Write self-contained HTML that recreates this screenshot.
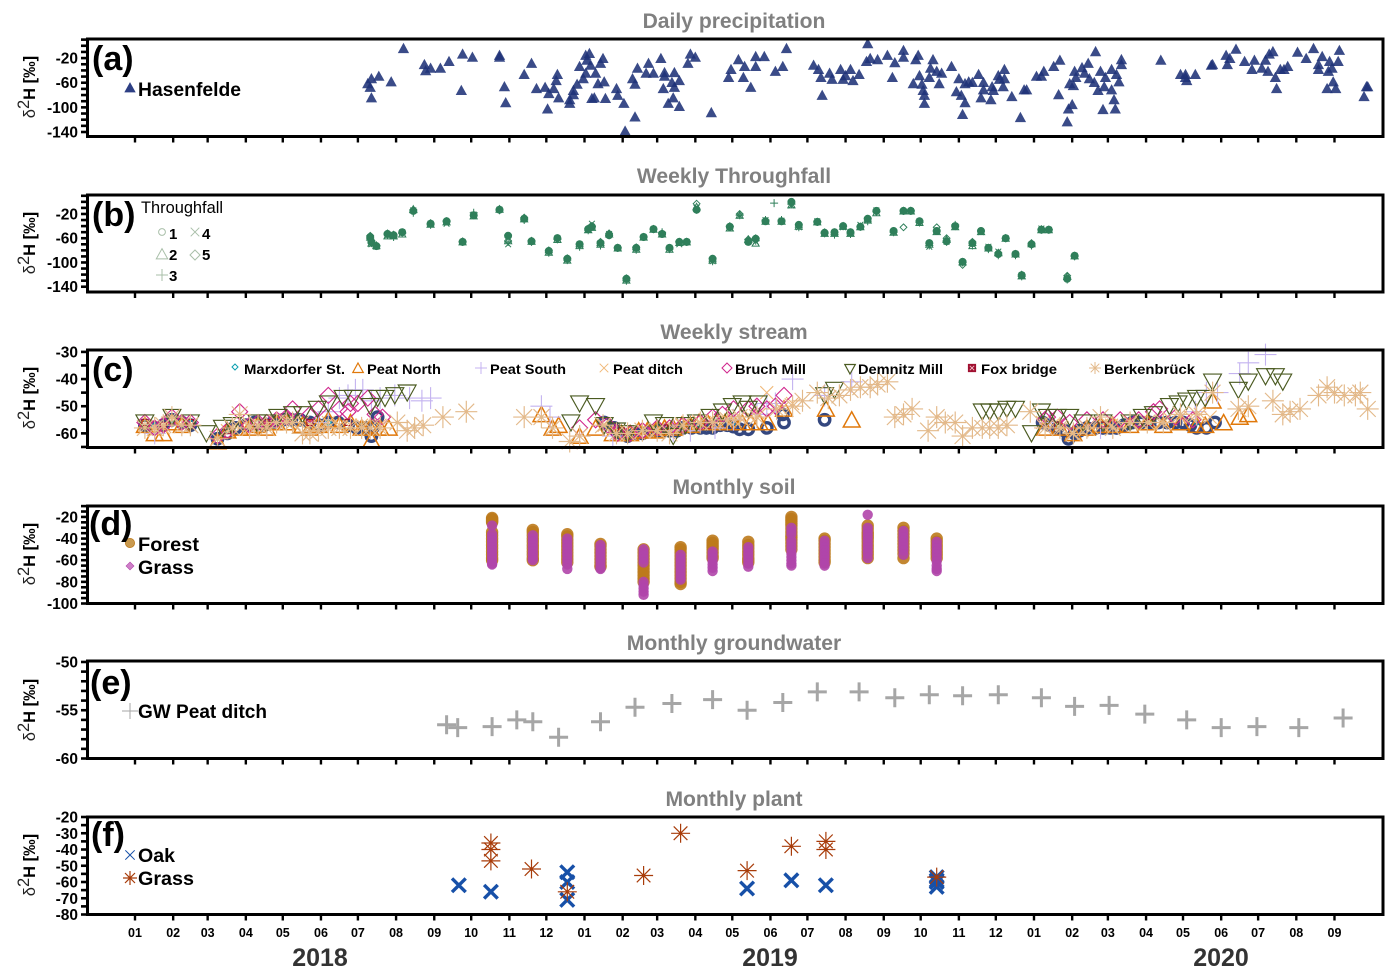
<!DOCTYPE html>
<html lang="en">
<head>
<meta charset="utf-8">
<title>Stable water isotopes time series</title>
<style>
html,body{margin:0;padding:0;background:#fff;}
svg{display:block;}
text{font-family:"Liberation Sans",sans-serif;}
.title{font-size:21.1px;font-weight:bold;fill:#808080;text-anchor:middle;}
.panel{font-size:34px;font-weight:bold;fill:#000;}
.leg{font-size:19.5px;font-weight:bold;fill:#000;}
.legc{font-size:14px;font-weight:bold;fill:#000;}
.ytitle{font-size:16.5px;fill:#222;text-anchor:middle;}
.ytitle .b{font-weight:bold;fill:#000;}
.year{font-size:25px;font-weight:bold;fill:#333;text-anchor:middle;}
.tick{font-size:15.5px;font-weight:bold;fill:#000;text-anchor:end;}
.mon{font-size:12.5px;font-weight:bold;fill:#000;text-anchor:middle;}
</style>
</head>
<body>
<svg id="chart" xmlns="http://www.w3.org/2000/svg" width="1396" height="978" viewBox="0 0 1396 978">
  <rect x="0" y="0" width="1396" height="978" fill="#fff"/>
  <g id="marks"></g>
  <g id="axes"></g>

  <text class="title" x="734" y="28">Daily precipitation</text>
  <text class="title" x="734" y="183">Weekly Throughfall</text>
  <text class="title" x="734" y="339">Weekly stream</text>
  <text class="title" x="734" y="494">Monthly soil</text>
  <text class="title" x="734" y="650">Monthly groundwater</text>
  <text class="title" x="734" y="806">Monthly plant</text>

  <text class="panel" x="92" y="70">(a)</text>
  <text class="panel" x="92" y="226">(b)</text>
  <text class="panel" x="92" y="381">(c)</text>
  <text class="panel" x="89" y="535">(d)</text>
  <text class="panel" x="90" y="694">(e)</text>
  <text class="panel" x="91" y="846">(f)</text>

  <text class="ytitle" transform="translate(35,87) rotate(-90)">δ<tspan dy="-6">2</tspan><tspan dy="6" class="b">H [‰]</tspan></text>
  <text class="ytitle" transform="translate(35,243) rotate(-90)">δ<tspan dy="-6">2</tspan><tspan dy="6" class="b">H [‰]</tspan></text>
  <text class="ytitle" transform="translate(35,398) rotate(-90)">δ<tspan dy="-6">2</tspan><tspan dy="6" class="b">H [‰]</tspan></text>
  <text class="ytitle" transform="translate(35,554) rotate(-90)">δ<tspan dy="-6">2</tspan><tspan dy="6" class="b">H [‰]</tspan></text>
  <text class="ytitle" transform="translate(35,710) rotate(-90)">δ<tspan dy="-6">2</tspan><tspan dy="6" class="b">H [‰]</tspan></text>
  <text class="ytitle" transform="translate(35,865) rotate(-90)">δ<tspan dy="-6">2</tspan><tspan dy="6" class="b">H [‰]</tspan></text>

  <text class="leg" x="138" y="96" textLength="103" lengthAdjust="spacingAndGlyphs">Hasenfelde</text>
  <text x="141" y="213" font-size="16.4" fill="#000">Throughfall</text>
  <g font-size="15" font-weight="bold" fill="#000">
    <text x="169" y="239">1</text>
    <text x="202" y="239">4</text>
    <text x="169" y="260">2</text>
    <text x="202" y="260">5</text>
    <text x="169" y="281">3</text>
  </g>
  <text class="legc" x="244" y="374" textLength="101" lengthAdjust="spacingAndGlyphs">Marxdorfer St.</text>
  <text class="legc" x="367" y="374" textLength="74" lengthAdjust="spacingAndGlyphs">Peat North</text>
  <text class="legc" x="490" y="374" textLength="76" lengthAdjust="spacingAndGlyphs">Peat South</text>
  <text class="legc" x="613" y="374" textLength="70" lengthAdjust="spacingAndGlyphs">Peat ditch</text>
  <text class="legc" x="735" y="374" textLength="71" lengthAdjust="spacingAndGlyphs">Bruch Mill</text>
  <text class="legc" x="858" y="374" textLength="85" lengthAdjust="spacingAndGlyphs">Demnitz Mill</text>
  <text class="legc" x="981" y="374" textLength="76" lengthAdjust="spacingAndGlyphs">Fox bridge</text>
  <text class="legc" x="1104" y="374" textLength="91" lengthAdjust="spacingAndGlyphs">Berkenbrück</text>
  <text class="leg" x="138" y="551" textLength="61" lengthAdjust="spacingAndGlyphs">Forest</text>
  <text class="leg" x="138" y="574" textLength="56" lengthAdjust="spacingAndGlyphs">Grass</text>
  <text class="leg" x="138" y="718" textLength="129" lengthAdjust="spacingAndGlyphs">GW Peat ditch</text>
  <text class="leg" x="138" y="862" textLength="37" lengthAdjust="spacingAndGlyphs">Oak</text>
  <text class="leg" x="138" y="885" textLength="56" lengthAdjust="spacingAndGlyphs">Grass</text>

  <text class="year" x="320" y="966">2018</text>
  <text class="year" x="770" y="966">2019</text>
  <text class="year" x="1221" y="966">2020</text>
</svg>

<script>
// ---- x axis data (days since 2018-01-01) ----
const monthLengths = [31,28,31,30,31,30,31,31,30,31,30,31,31,28,31,30,31,30,31,31,30,31,30,31,31,29,31,30,31,30,31,31,30];
const monthLabels = ['01','02','03','04','05','06','07','08','09','10','11','12','01','02','03','04','05','06','07','08','09','10','11','12','01','02','03','04','05','06','07','08','09'];

// ---- panel (a) daily precipitation [day, d2H] ----
const precipitation = [[189,-61],[191,-67],[192,-84],[192,-53],[198,-49],[208,-58],[218,-4],[235,-30],[236,-40],[240,-36],[248,-36],[255,-25],[265,-72],[266,-13],[274,-18],[296,-15],[296,-18],[300,-66],[301,-92],[316,-46],[322,-28],[326,-69],[333,-67],[335,-102],[336,-77],[340,-69],[342,-56],[343,-46],[344,-84],[353,-93],[353,-87],[356,-72],[356,-79],[359,-62],[361,-33],[364,-53],[366,-15],[367,-23],[369,-12],[370,-31],[366,-44],[374,-44],[376,-61],[373,-84],[371,-85],[380,-20],[378,-28],[381,-58],[382,-85],[391,-69],[392,-80],[397,-93],[398,-138],[406,-115],[404,-53],[406,-62],[408,-36],[415,-44],[417,-28],[421,-44],[427,-20],[429,-69],[430,-43],[430,-49],[433,-93],[436,-59],[437,-84],[438,-67],[438,-43],[442,-56],[442,-98],[449,-28],[451,-13],[455,-18],
[468,-108],[482,-51],[484,-38],[490,-22],[494,-51],[495,-33],[500,-67],[504,-33],[504,-17],[511,-17],[520,-41],[526,-33],[529,-4],[551,-31],[555,-38],[557,-51],[558,-80],[564,-44],[566,-54],[573,-38],[575,-54],[577,-48],[581,-38],[583,-56],[588,-46],[595,4],[594,-25],[597,-20],[603,-22],[611,-15],[615,-51],[617,-27],[624,-7],[624,-18],[634,-22],[636,-15],[632,-61],[637,-48],[639,-62],[640,-72],[641,-80],[641,-93],[645,-51],[646,-36],[648,-22],[651,-41],[653,-61],[655,-44],[663,-33],[667,-74],[669,-53],[671,-80],[672,-111],[674,-92],[674,-61],[677,-58],[680,-59],[685,-46],[687,-84],[689,-71],[689,-59],[695,-87],[696,-66],[697,-72],[701,-48],[702,-54],[705,-66],[706,-38],[706,-53],[712,-82],[719,-116],[722,-71],[724,-71],[732,-49],[736,-49],[738,-41],[746,-33],[751,-23],[750,-79],[757,-123],[758,-102],[761,-95],[759,-61],[762,-64],[763,-41],[764,-51],[769,-35],[771,-44],[774,-28],[775,-53],[779,-59],[780,-9],[782,-72],[784,-41],[786,-103],[787,-66],[788,-51],[793,-71],[793,-38],[795,-87],[796,-102],[797,-46],[799,-58],[801,-30],[801,-22],
[833,-23],[849,-46],[853,-51],[853,-46],[854,-56],[861,-46],[874,-31],[875,-30],[886,-15],[887,-30],[889,-20],[894,-5],[901,-25],[907,-38],[909,-23],[915,-36],[918,-23],[920,-41],[921,-13],[924,-9],[926,-51],[927,-69],[930,-38],[933,-38],[936,-33],[944,-10],[951,-20],[957,-4],[961,-30],[961,-38],[964,-17],[968,-69],[969,-41],[970,-25],[972,-36],[973,-58],[975,-69],[977,-25],[978,-7],[998,-82],[1000,-66],[1001,-66]];

// ---- panel (b) weekly throughfall ----
const tfDays = [191,192,196,205,210,217,226,240,253,266,275,296,303,316,322,336,343,351,361,368,371,378,385,392,399,407,413,421,428,434,442,448,456,469,483,491,498,504,512,519,525,533,539,554,560,568,575,581,589,595,602,616,624,630,637,645,651,659,666,672,680,687,693,701,707,715,720,728,736,742,757,763];
const tf1 = [-58,-66,-73,-53,-55,-50,-15,-36,-32,-66,-22,-13,-56,-28,-65,-81,-60,-94,-70,-45,-41,-68,-55,-76,-127,-76,-58,-45,-53,-76,-66,-66,-13,-94,-41,null,-66,-61,-32,null,-32,0,-38,-33,-51,-50,-40,-50,-41,-28,-15,-48,-15,-15,-32,-68,-48,-65,-40,-99,-68,-48,-76,-86,-60,-86,-121,-70,-46,-46,-127,-89];
const tf2 = [-58,-68,-72,-56,-56,-53,-12,-37,-33,-66,-23,-12,-64,-28,-65,-83,-62,-96,-72,-46,-42,-70,-53,-76,-129,-78,-58,-45,-53,-78,-67,-66,-8,-96,-43,-22,-62,-68,-32,null,-32,-5,-40,-33,-52,-52,-40,-52,-41,-30,-18,-50,-15,-15,-34,-70,-49,-62,-41,-99,-72,-49,-76,-84,-60,-86,-122,-69,-46,-46,-123,-89];
const tf3 = [-60,-68,-72,-54,-58,-52,-18,-38,-32,-66,-18,-14,-66,-30,-66,-84,-62,-96,-74,-47,-40,-72,-55,-76,-130,-79,-58,-45,-50,-78,-66,-66,-13,-98,-40,-22,-62,-64,-30,-2,-30,-4,-42,-33,-52,-54,-40,-53,-41,-32,-16,-50,-15,-15,-34,-72,-48,-66,-38,-100,-72,-48,-78,-88,-60,-88,-123,-72,-46,-46,-128,-90];
const tf4 = [-59,-70,-74,-55,-57,-50,-14,-36,-36,-66,-21,-13,-70,-28,-66,-82,-60,-95,-70,-46,-36,-68,-53,-76,-128,-77,-58,-45,-53,-76,-70,-66,-10,-98,-42,-23,-66,-66,-30,null,-31,-6,-42,-32,-52,-52,-42,-52,-38,-30,-14,-50,-16,-15,-32,-74,-47,-66,-40,-100,-70,-50,-74,-82,-60,-86,-121,-70,-44,-46,-126,-89];
const tf5 = [-56,-64,-72,-52,-54,-50,-13,-35,-32,-65,-22,-12,-64,-26,-64,-80,-60,-93,-70,-44,-40,-66,-52,-76,-126,-75,-58,-45,-52,-76,-66,-66,-3,-94,-41,-20,-62,-60,-31,null,-32,-2,-38,-33,-50,-50,-40,-50,-41,-28,-16,-48,-42,-15,-32,-68,-42,-60,-40,-104,-66,-48,-76,-84,-60,-86,-120,-68,-45,-46,-122,-89];

// ---- panel (c) weekly stream [day, d2H] ----
const foxCircles = [[8,-57],[16,-58],[23,-57],[30,-55],[38,-56],[45,-57],[67,-62],[75,-60],[82,-58],[90,-57],[97,-56],[105,-57],[112,-56],[120,-55],[127,-55],[134,-55],[142,-56],[149,-57],[157,-56],[165,-56],[173,-57],[180,-58],[187,-58],[192,-61],[197,-54],[193,-58],
[381,-56],[389,-58],[391,-59],[395,-60],[400,-61],[406,-60],[412,-60],[418,-59],[424,-59],[429,-59],[434,-59],[440,-59],[445,-58],[452,-58],[459,-58],[464,-58],[469,-58],[475,-57],[481,-57],[486,-57.5],[491,-58.5],[498,-58.5],[513,-58],[526,-53],[527,-56],[560,-55],
[737,-56],[743,-57],[749,-58],[755,-59],[758,-62],[763,-60],[767,-59],[773,-58],[780,-58],[786,-58],[792,-58],[797,-58],[803,-57],[810,-56],[817,-56],[824,-56],[831,-56],[838,-56],[845,-56],[851,-56],[857,-57],[862,-58],[870,-58],[877,-56]];
const marxdorfer = [[8,-56],[16,-57],[30,-55],[45,-56],[75,-59],[100,-56],[127,-55],[157,-56],[184,-57],[395,-59],[424,-58],[459,-57],[488,-56],[749,-57],[786,-57],[824,-56],[862,-56]];
const peatNorth = [[8,-57],[16,-60],[23,-60],[30,-56],[38,-57],[67,-63],[75,-59],[85,-58],[93,-58],[100,-57],[107,-58],[115,-56],[123,-56],[136,-57],[142,-58],[149,-57],[157,-55],[166,-57],[175,-56],[184,-58],[191,-58],[192,-62.5],[199,-58],[206,-58],
[330,-53],[339,-58],[344,-57],[361,-61],[374,-58],[388,-60],[395,-60],[402,-60],[409,-59],[416,-59],[423,-59],[430,-58],[437,-58],[444,-57],[451,-57],[458,-56],[465,-56],[472,-56],[479,-56],[486,-56],[493,-56],[500,-56],[507,-56],[514,-56],[527,-51],[561,-51],[582,-55],
[739,-58],[751,-58],[762,-60],[773,-58],[784,-57],[794,-57],[808,-57],[822,-56],[835,-57],[849,-56],[862,-57],[869,-57],[875,-48],[884,-56],[897,-54],[904,-53]];
const peatSouth = [[16,-60],[107,-58],[149,-56],[157,-52],[166,-47],[173,-46],[179,-44],[185,-44],[192,-48],[199,-47],[211,-46],[223,-47],[233,-48],[240,-47],
[330,-50],[337,-54],[361,-61],[388,-61],[437,-59],[451,-59],[471,-58],[486,-55],[505,-53],[513,-49],[520,-49],[534,-40],[560,-46],[582,-41],
[743,-56],[784,-58],[849,-53],[861,-52],[870,-45],[879,-45],[897,-38],[904,-34],[918,-31]];
const peatDitch = [[8,-57],[16,-59],[23,-58],[30,-55],[38,-57],[45,-57],[67,-62],[75,-59],[85,-58],[93,-57],[100,-57],[107,-57],[115,-56],[123,-55],[130,-55],[136,-56],[142,-57],[149,-57],[157,-56],[166,-57],[175,-57],[184,-57],[191,-58],[199,-57],
[381,-57],[388,-59],[395,-60],[402,-60],[409,-60],[416,-59],[423,-59],[430,-58],[437,-58],[444,-57],[451,-57],[458,-56],[465,-56],[472,-56],[479,-55],[486,-55],[493,-55],[500,-54],[507,-53],[513,-45],[525,-51],[534,-49],
[737,-56],[745,-57],[753,-58],[761,-60],[769,-59],[777,-58],[785,-57],[793,-57],[801,-57],[809,-56],[817,-56],[825,-56],[833,-56],[841,-55],[849,-54],[857,-54],[865,-53],[873,-54]];
const bruchMill = [[8,-56],[16,-58],[23,-57],[30,-54],[38,-56],[45,-56],[67,-61],[75,-59],[85,-52],[93,-57],[100,-56],[107,-56],[115,-55],[123,-54],[128,-51],[142,-53],[149,-51],[157,-46],[166,-51],[173,-52],[175,-49],[181,-49],[189,-47],[195,-53],[201,-54],
[361,-58],[374,-55],[384,-57],[392,-60],[402,-60],[412,-59],[424,-58],[434,-58],[445,-57],[459,-56],[469,-54],[477,-53],[486,-51],[498,-51],[505,-50],[513,-51],[520,-50],[527,-46],
[739,-55],[741,-54],[749,-54],[759,-56],[773,-55],[786,-55],[800,-55],[815,-55],[827,-52],[832,-51],[845,-54],[859,-55]];
const demnitzMill = [[8,-56],[30,-54],[45,-56],[58,-60],[71,-58],[79,-57],[99,-56],[107,-56],[116,-54],[128,-53],[136,-53],[148,-51],[157,-49],[169,-47],[177,-47],[191,-50],[197,-47],[203,-47],[211,-46],[221,-45],
[354,-56],[361,-49],[374,-50],[381,-57],[391,-59],[400,-60],[421,-56],[430,-57],[437,-61],[447,-57],[456,-56],[467,-54],[477,-52],[485,-50],[493,-49],[498,-51],[506,-49],[560,-46],[568,-44],
[688,-52],[694,-52],[701,-52],[708,-51],[715,-51],[728,-60],[736,-52],[741,-54],[749,-54],[759,-54],[770,-56],[786,-56],[808,-56],[818,-54],[827,-53],[840,-50],[847,-49],[854,-48],[862,-47],[869,-47],[875,-41],[896,-44],[904,-41],[918,-39],[926,-39],[932,-41]];
const foxBridge = [[8,-56],[23,-57],[45,-56],[75,-59],[107,-56],[142,-56],[173,-56],[395,-59],[430,-58],[465,-57],[749,-57],[786,-57],[824,-56]];
const berkenbrueck = [[8,-58],[16,-58],[23,-57],[30,-54],[38,-57],[45,-57],[67,-62],[79,-58],[85,-53],[93,-58],[100,-57],[107,-58],[115,-56],[123,-56],[128,-56],[136,-60],[142,-60],[149,-59],[157,-58],[166,-58],[175,-58],[184,-58],[191,-58],[199,-58],[213,-56],[221,-59],[227,-58],[234,-57],[250,-54],[269,-52],
[316,-54],[330,-54],[339,-58],[353,-63],[361,-61],[380,-57],[391,-60],[400,-60],[412,-59],[424,-59],[434,-60],[445,-57],[459,-56],[469,-56],[481,-55],[491,-54],[505,-54],[521,-51],[534,-50],[542,-48],[554,-45],[563,-47],[572,-46],[581,-44],[589,-43],[597,-43],[603,-42],[611,-41],[617,-54],[624,-53],[631,-51],[644,-59],[651,-54],[658,-56],[666,-56],[672,-61],[680,-58],[688,-58],[694,-58],[701,-58],[708,-57],[727,-52],[739,-58],[751,-58],[762,-60],[773,-58],[784,-54],[794,-58],[808,-56],[822,-56],[835,-56],[849,-53],[862,-53],[875,-45],[896,-51],[904,-50],[924,-48],[932,-53],[938,-52],[946,-51],[961,-46],[968,-43],[974,-45],[982,-46],[991,-46],[995,-45],[1001,-51]];

// ---- panel (d) monthly soil ----
const soilDays = [290,323,351,378,413,443,469,498,533,560,595,624,651];
const forestSoil = [
 [-21,-22,-23,-24,-25,-34,-37,-40,-43,-46,-49,-52,-55,-58,-60],
 [-32,-34,-37,-40,-43,-46,-49,-52,-55,-58,-60],
 [-36,-38,-41,-44,-47,-50,-53,-56,-59,-62],
 [-45,-47,-50,-53,-56,-59,-62,-65,-66],
 [-50,-53,-56,-59,-62,-65,-68,-71,-74,-77,-80],
 [-48,-50,-53,-56,-59,-62,-65,-68,-71,-74,-77,-80,-82],
 [-42,-44,-46,-48,-50,-53,-56,-58],
 [-43,-46,-49,-52,-55,-58,-60,-62],
 [-20,-22,-24,-26,-28,-31,-34,-37,-39,-41,-44,-47,-50],
 [-40,-42,-45,-48,-51,-54,-57,-60,-62],
 [-28,-31,-34,-36,-38,-40,-43,-46,-49,-52,-55,-58],
 [-30,-33,-36,-39,-42,-45,-48,-51,-54,-58],
 [-40,-43,-46,-49,-52,-55,-58]];
const grassSoil = [
 [-28,-36,-39,-42,-45,-48,-51,-54,-57,-60,-63,-64],
 [-37,-40,-43,-46,-49,-52,-55,-58,-60],
 [-40,-43,-46,-49,-52,-55,-58,-61,-64,-68],
 [-46,-49,-52,-55,-58,-61,-64,-67,-68],
 [-50,-53,-56,-59,-62,-80,-83,-86,-89,-92],
 [-55,-58,-61,-64,-67,-70,-73,-76,-78],
 [-52,-55,-58,-61,-64,-67,-70],
 [-48,-51,-54,-57,-60,-63,-66],
 [-30,-33,-36,-42,-45,-48,-51,-54,-57,-60,-63,-65],
 [-42,-45,-48,-51,-54,-57,-60,-63,-65],
 [-18,-30,-33,-36,-39,-42,-45,-48,-51,-54,-58],
 [-33,-36,-39,-42,-45,-48,-51,-55],
 [-43,-46,-49,-52,-55,-58,-61,-65,-68,-70]];

// ---- panel (e) monthly groundwater [day, d2H] ----
const groundwater = [[253,-56.5],[262,-56.8],[290,-56.7],[310,-56],[323,-56.2],[344,-57.8],[378,-56.2],[406,-54.7],[436,-54.3],[469,-53.9],[497,-55],[526,-54.2],[554,-53.1],[588,-53.1],[617,-53.7],[645,-53.4],[672,-53.5],[701,-53.4],[736,-53.7],[763,-54.6],[791,-54.5],[820,-55.4],[854,-56],[882,-56.8],[911,-56.7],[945,-56.8],[981,-55.8]];

// ---- panel (f) monthly plant [day, d2H] ----
const plantOak = [[263,-62],[289,-66],[351,-54],[351,-60],[351,-71],[497,-64],[533,-59],[561,-62],[651,-57],[651,-59],[651,-60],[651,-63]];
const plantGrass = [[289,-36],[289,-40],[289,-47],[322,-52],[351,-66],[413,-56],[443,-30],[497,-53],[533,-38],[561,-35],[561,-40],[651,-57]];

// ---- tick label arrays ----
const yTicksA = [-20,-60,-100,-140];
const yTicksB = [-20,-60,-100,-140];
const yTicksC = [-30,-40,-50,-60];
const yTicksD = [-20,-40,-60,-80,-100];
const yTicksE = [-50,-55,-60];
const yTicksF = [-20,-30,-40,-50,-60,-70,-80];

// ---- axis functions ----
const SVGNS = 'http://www.w3.org/2000/svg';
const marksG = document.getElementById('marks');
const axesG = document.getElementById('axes');
const FRAME_L = 87.5, FRAME_R = 1383;
function xScale(day){ return 135 + day * 1.2315; }
function yScaleFor(top, bottom, vTop, vBottom){
  return function(v){ return top + (v - vTop) / (vBottom - vTop) * (bottom - top); };
}
function shape(kind, x, y, r){
  const f = n => n.toFixed(1);
  if(kind === 'tri') return 'M'+f(x)+' '+f(y-r)+'L'+f(x+r*1.05)+' '+f(y+r*.9)+'L'+f(x-r*1.05)+' '+f(y+r*.9)+'Z';
  if(kind === 'tridown') return 'M'+f(x)+' '+f(y+r)+'L'+f(x+r*1.05)+' '+f(y-r*.9)+'L'+f(x-r*1.05)+' '+f(y-r*.9)+'Z';
  if(kind === 'diamond') return 'M'+f(x)+' '+f(y-r)+'L'+f(x+r)+' '+f(y)+'L'+f(x)+' '+f(y+r)+'L'+f(x-r)+' '+f(y)+'Z';
  if(kind === 'plus') return 'M'+f(x-r)+' '+f(y)+'H'+f(x+r)+'M'+f(x)+' '+f(y-r)+'V'+f(y+r);
  if(kind === 'cross'){ const k=r*.72; return 'M'+f(x-k)+' '+f(y-k)+'L'+f(x+k)+' '+f(y+k)+'M'+f(x-k)+' '+f(y+k)+'L'+f(x+k)+' '+f(y-k); }
  if(kind === 'star'){ const k=r*.72; return 'M'+f(x-r)+' '+f(y)+'H'+f(x+r)+'M'+f(x)+' '+f(y-r)+'V'+f(y+r)+'M'+f(x-k)+' '+f(y-k)+'L'+f(x+k)+' '+f(y+k)+'M'+f(x-k)+' '+f(y+k)+'L'+f(x+k)+' '+f(y-k); }
  if(kind === 'square') return 'M'+f(x-r)+' '+f(y-r)+'H'+f(x+r)+'V'+f(y+r)+'H'+f(x-r)+'Z';
  return 'M'+f(x-r)+' '+f(y)+'A'+r+' '+r+' 0 1 0 '+f(x+r)+' '+f(y)+'A'+r+' '+r+' 0 1 0 '+f(x-r)+' '+f(y)+'Z';
}
function drawMark(parent, seriesName, kind, x, y, r, fill, stroke, sw, op){
  const mark = document.createElementNS(SVGNS, 'path');
  
  
  mark.setAttribute('d', shape(kind, x, y, r));
  mark.setAttribute('fill', fill);
  mark.setAttribute('stroke', stroke);
  mark.setAttribute('stroke-width', sw);
  if(op !== undefined) mark.setAttribute('opacity', op);
  parent.appendChild(mark);
}
function seriesGroup(name){
  const g = document.createElementNS(SVGNS, 'g');
  
  
  marksG.appendChild(g);
  return g;
}
function drawPairs(name, pairs, y, kind, r, fill, stroke, sw, op){
  const g = seriesGroup(name);
  pairs.forEach(function(p){
    drawMark(g, name + '-point', kind, xScale(p[0]), y(p[1]), r, fill, stroke, sw, op);
  });
}
function drawAligned(name, days, vals, y, kind, r, fill, stroke, sw, op){
  const g = seriesGroup(name);
  days.forEach(function(d, i){
    if(vals[i] === null || vals[i] === undefined) return;
    drawMark(g, name + '-point', kind, xScale(d), y(vals[i]), r, fill, stroke, sw, op);
  });
}
function line(x1, y1, x2, y2, w){
  const l = document.createElementNS(SVGNS, 'line');
  
  
  l.setAttribute('x1', x1); l.setAttribute('y1', y1);
  l.setAttribute('x2', x2); l.setAttribute('y2', y2);
  l.setAttribute('stroke', '#000');
  l.setAttribute('stroke-width', w);
  axesG.appendChild(l);
}
function monthDays(){
  const out = [0];
  monthLengths.forEach(function(n, i){ out.push(out[i] + n); });
  return out.slice(0, monthLabels.length);
}
function drawAxes(top, bottom, y, labels, minorStep, vMax, vMin){
  for(let v = vMax; v >= vMin; v -= minorStep){
    const py = y(v);
    if(py < top - 1 || py > bottom + 1) continue;
    line(81, py, FRAME_L, py, 2.6);
  }
  labels.forEach(function(v){
    const t = document.createElementNS(SVGNS, 'text');
    
    
    t.setAttribute('class', 'tick');
    t.setAttribute('x', 78);
    t.setAttribute('y', y(v) + 5.5);
    t.textContent = String(v);
    axesG.appendChild(t);
  });
  monthDays().forEach(function(d){
    line(xScale(d), bottom, xScale(d), bottom + 6, 2.4);
  });
  const frame = document.createElementNS(SVGNS, 'rect');
  
  
  frame.setAttribute('x', FRAME_L); frame.setAttribute('y', top);
  frame.setAttribute('width', FRAME_R - FRAME_L); frame.setAttribute('height', bottom - top);
  frame.setAttribute('fill', 'none');
  frame.setAttribute('stroke', '#000');
  frame.setAttribute('stroke-width', 3);
  axesG.appendChild(frame);
}

// ---- scales ----
const yA = yScaleFor(39, 136.5, 11, -147.3);
const yB = yScaleFor(195, 292, 11.3, -148.7);
const yC = yScaleFor(350, 447.5, -29.3, -65.2);
const yD = yScaleFor(506, 603.5, -9.9, -100);
const yE = yScaleFor(661, 758.5, -49.9, -60);
const yF = yScaleFor(817, 914.5, -20, -80);

drawAxes(39, 136.5, yA, yTicksA, 10, 10, -140);
drawAxes(195, 292, yB, yTicksB, 10, 10, -140);
drawAxes(350, 447.5, yC, yTicksC, 5, -30, -65);
drawAxes(506, 603.5, yD, yTicksD, 5, -10, -100);
drawAxes(661, 758.5, yE, yTicksE, 1, -50, -60);
drawAxes(817, 914.5, yF, yTicksF, 5, -20, -80);

// month labels
monthDays().forEach(function(d, i){
  const t = document.createElementNS(SVGNS, 'text');
  
  
  t.setAttribute('class', 'mon');
  t.setAttribute('x', xScale(d));
  t.setAttribute('y', 937);
  t.textContent = monthLabels[i];
  axesG.appendChild(t);
});

// ---- series ----
drawPairs('precipitation-hasenfelde', precipitation, yA, 'tri', 5.4, '#1f3278', 'none', 0, .88);

const TF_GREEN = '#2f7f5a';
drawAligned('throughfall-2', tfDays, tf2, yB, 'tri', 3.4, 'none', TF_GREEN, 1);
drawAligned('throughfall-3', tfDays, tf3, yB, 'plus', 4, 'none', TF_GREEN, 1);
drawAligned('throughfall-4', tfDays, tf4, yB, 'cross', 4, 'none', TF_GREEN, 1);
drawAligned('throughfall-5', tfDays, tf5, yB, 'diamond', 3.4, 'none', TF_GREEN, 1);
drawAligned('throughfall-1', tfDays, tf1, yB, 'circle', 3.7, TF_GREEN, TF_GREEN, .6);

drawPairs('stream-fox-circles', foxCircles, yC, 'circle', 5.2, 'none', '#34477f', 3.4);
drawPairs('stream-marxdorfer', marxdorfer, yC, 'diamond', 3, 'none', '#0a9fb0', 1);
drawPairs('stream-peat-north', peatNorth, yC, 'tri', 8, 'none', '#e0780a', 1.5);
drawPairs('stream-peat-south', peatSouth, yC, 'plus', 11, 'none', '#c4b3f0', 1.1);
drawPairs('stream-peat-ditch', peatDitch, yC, 'cross', 9, 'none', '#f0b878', 1.1);
drawPairs('stream-bruch-mill', bruchMill, yC, 'diamond', 8, 'none', '#d0258c', 1.1);
drawPairs('stream-fox-bridge', foxBridge, yC, 'square', 3, 'none', '#a01030', 1);
drawPairs('stream-demnitz-mill', demnitzMill, yC, 'tridown', 8.5, 'none', '#4a5a20', 1.15);
drawPairs('stream-berkenbrueck', berkenbrueck, yC, 'star', 11, 'none', '#e3b98a', 1.15);

const soilForestG = seriesGroup('soil-forest');
const soilGrassG = seriesGroup('soil-grass');
soilDays.forEach(function(d, i){
  forestSoil[i].forEach(function(v){
    drawMark(soilForestG, 'soil-forest-point', 'circle', xScale(d), yD(v), 6.2, '#bd7a1c', 'none', 0, .9);
  });
  grassSoil[i].forEach(function(v){
    drawMark(soilGrassG, 'soil-grass-point', 'circle', xScale(d), yD(v), 5.2, '#b045aa', 'none', 0, .9);
  });
});

drawPairs('groundwater-peat-ditch', groundwater, yE, 'plus', 9.5, 'none', '#a6a6a6', 3);
drawPairs('plant-oak', plantOak, yF, 'cross', 9.5, 'none', '#1750a8', 3.4);
drawPairs('plant-grass', plantGrass, yF, 'star', 9.5, 'none', '#a83c0a', 1.2);

// ---- legend symbols ----
function legendMark(name, kind, x, y, r, fill, stroke, sw){
  const g = axesG;
  drawMark(g, name, kind, x, y, r, fill, stroke, sw);
}
legendMark('legend-symbol-hasenfelde', 'tri', 130, 87.5, 5.4, '#2d3f84', 'none', 0);
const LG = '#a9bfa9';
legendMark('legend-symbol-tf1', 'circle', 162, 232, 3.4, 'none', LG, 1);
legendMark('legend-symbol-tf2', 'tri', 162, 254, 5.4, 'none', LG, 1);
legendMark('legend-symbol-tf3', 'plus', 162, 275, 6, 'none', LG, 1);
legendMark('legend-symbol-tf4', 'cross', 195, 232, 6, 'none', LG, 1);
legendMark('legend-symbol-tf5', 'diamond', 195, 255, 5, 'none', LG, 1);
legendMark('legend-symbol-marxdorfer', 'diamond', 235, 367, 3, 'none', '#0a9fb0', 1);
legendMark('legend-symbol-peat-north', 'tri', 358, 368, 5, 'none', '#e0780a', 1.2);
legendMark('legend-symbol-peat-south', 'plus', 481, 368, 6, 'none', '#c4b3f0', 1);
legendMark('legend-symbol-peat-ditch', 'cross', 604, 368, 6, 'none', '#f0b878', 1);
legendMark('legend-symbol-bruch-mill', 'diamond', 727, 368, 5, 'none', '#d0258c', 1);
legendMark('legend-symbol-demnitz-mill', 'tridown', 850, 369, 5, 'none', '#4a5a20', 1.2);
legendMark('legend-symbol-fox-bridge', 'square', 972, 368, 3.4, '#a01030', '#a01030', 1.4);
legendMark('legend-symbol-fox-bridge-cross', 'cross', 972, 368, 3, 'none', '#f3c6cf', .8);
legendMark('legend-symbol-berkenbrueck', 'star', 1095, 368, 6, 'none', '#e3b98a', 1);
legendMark('legend-symbol-forest', 'circle', 130, 543, 4.6, '#c99a50', '#bd7a1c', .8);
legendMark('legend-symbol-soil-grass', 'diamond', 130, 566, 4, '#cf7fc8', '#b045aa', .6);
legendMark('legend-symbol-gw', 'plus', 130, 711, 8, 'none', '#a6a6a6', 1);
legendMark('legend-symbol-oak', 'cross', 130, 855, 6.5, 'none', '#1750a8', 1);
legendMark('legend-symbol-plant-grass', 'star', 130, 878, 7, 'none', '#a83c0a', 1.2);
</script>
</body>
</html>
